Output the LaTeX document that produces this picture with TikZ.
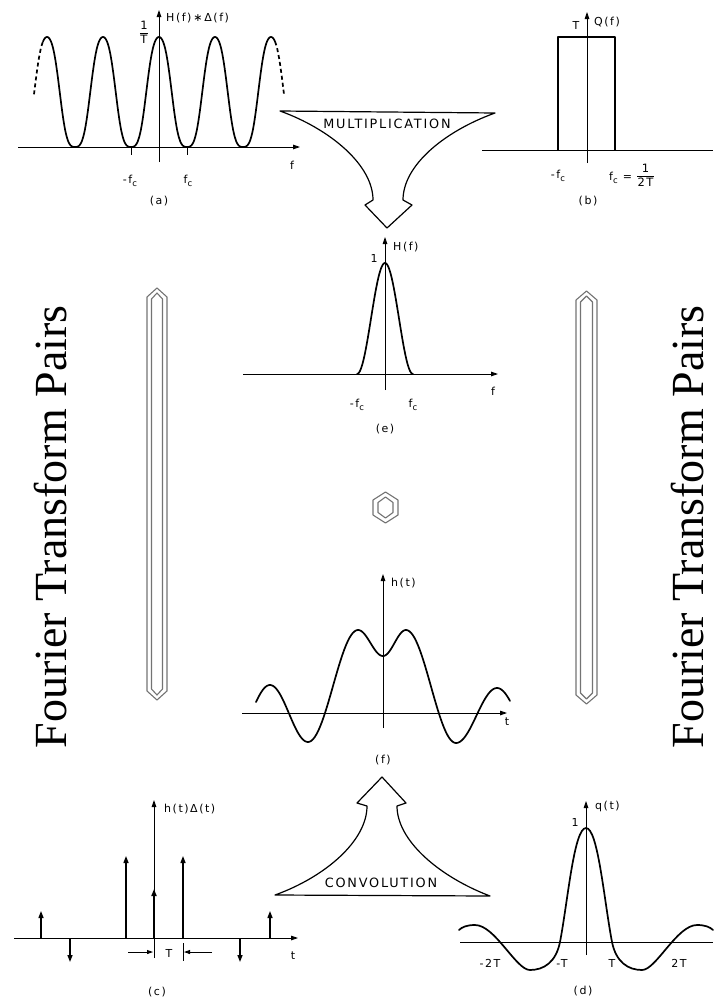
\documentclass[tikz,border=0pt]{standalone}
\usepackage{fontspec}
\setmainfont{DejaVu Sans}
\newfontfamily\labfont[LetterSpace=14]{DejaVu Sans}
\newfontfamily\trfont{Liberation Serif}
\usetikzlibrary{arrows.meta}
\newcommand{\fcsub}{f\raisebox{-0.5ex}{\fontsize{8.5}{8.5}\selectfont c}}
\newcommand{\hfr}[2]{\begingroup\fontsize{11.5}{12}\selectfont\setlength{\tabcolsep}{0.5pt}\renewcommand{\arraystretch}{0.95}\begin{tabular}{c}#1\\[-0.5pt]\hline\rule{0pt}{10pt}#2\end{tabular}\endgroup}
\begin{document}
\begin{tikzpicture}[x=1pt,y=-1pt,
  axtip/.style={-{Triangle[length=7pt,width=4.6pt]}},
  axline/.style={line width=0.9pt},
  axarr/.style={axline,axtip},
  crv/.style={line width=1.7pt,line join=round,line cap=round},
  impulse/.style={line width=1.3pt,-{Triangle[length=7pt,width=5pt]}},
  dimarr/.style={line width=0.8pt,-{Triangle[length=6pt,width=4pt]}},
  lbl/.style={font=\labfont\fontsize{11}{12}\selectfont,inner sep=0pt},
  optxt/.style={font=\labfont\fontsize{12.8}{15}\selectfont,inner sep=0pt},
  sidetxt/.style={font=\trfont\fontsize{46}{50}\selectfont,inner sep=0pt,rotate=90},
  opshape/.style={draw=black,line width=1.2pt,fill=white,line join=round},
  pairbar/.style={draw=black!55,line width=1.1pt,line join=round},
  declare function={wav(\t)=147-110*pow(max(0.0005,0.5+0.5*(cos((\t-159)/56*360)-0.05*cos((\t-159)/56*1080))/0.95),1.3);},
]
\useasboundingbox (0,0) rectangle (713,1001);

% side texts
\node[sidetxt] (ftl) at (51,527) {Fourier Transform Pairs};
\node[sidetxt] (ftr) at (688,527) {Fourier Transform Pairs};

% double-outlined bars
\draw[pairbar] (157,288) -- (167,297) -- (167,691) -- (157,700) -- (147,691) -- (147,297) -- cycle;
\draw[pairbar] (157,293) -- (162.5,299) -- (162.5,689) -- (157,695) -- (151.5,689) -- (151.5,299) -- cycle;
\draw[pairbar] (586.5,291) -- (597,300) -- (597,695) -- (586.5,704) -- (576,695) -- (576,300) -- cycle;
\draw[pairbar] (586.5,296) -- (592.5,302) -- (592.5,693) -- (586.5,699) -- (580.5,693) -- (580.5,302) -- cycle;
\draw[pairbar] (385.5,492) -- (398,500) -- (398,515) -- (385.5,523) -- (373,515) -- (373,500) -- cycle;
\draw[pairbar] (385.5,497) -- (393,502.5) -- (393,512.5) -- (385.5,518) -- (378,512.5) -- (378,502.5) -- cycle;

% ---------- panel (a)
\draw[axarr] (18,147) -- (300,147);
\draw[axarr] (159,162) -- (159,10);
\draw[axline] (131,147) -- (131,155);
\draw[axline] (187,147) -- (187,155);
\draw[crv] plot[domain=43:275,samples=300] (\x,{wav(\x)});
\draw[crv,line cap=butt,dash pattern=on 4pt off 3pt] plot[domain=34:43,samples=12] (\x,{wav(\x)});
\draw[crv,line cap=butt,dash pattern=on 4pt off 3pt] plot[domain=275:284,samples=12] (\x,{wav(\x)});
\node[lbl,anchor=west] (la1) at (166,18) {H(f)\,∗\,Δ(f)};
\node[lbl] (la2) at (144,34) {\hfr{1}{T}};
\node[lbl] (la3) at (130,181) {-\fcsub};
\node[lbl] (la4) at (188,181) {\fcsub};
\node[lbl] (la5) at (292,165) {f};
\node[lbl] (la6) at (159,201) {(a)};

% ---------- panel (b)
\draw[axline] (482,150) -- (713,150);
\draw[axarr] (587,163) -- (587,12);
\draw[crv,line cap=butt] (558,150) -- (558,37) -- (615,37) -- (615,150);
\node[lbl] (lb1) at (576,25) {T};
\node[lbl,anchor=west] (lb2) at (594,22) {Q(f)};
\node[lbl] (lb3) at (558,176) {-\fcsub};
\node[lbl,anchor=west] (lb4) at (609,177) {\fcsub\ =\ \hfr{1}{2T}};
\node[lbl] (lb5) at (588,201) {(b)};

% ---------- multiplication arrow
\draw[opshape] (280,111) -- (495,113)
  .. controls (445,131) and (403,165) .. (403,200)
  -- (412,205) -- (387,228) -- (365,205) -- (373,200)
  .. controls (373,165) and (330,129) .. (280,111) -- cycle;
\node[optxt] (mult) at (387,124) {MULTIPLICATION};

% ---------- panel (e)
\draw[axarr] (243,374) -- (498,374);
\draw[axarr] (385,390) -- (385,237);
\draw[crv] plot[domain=357:413,samples=80] (\x,{374-111*(1+cos((\x-385)/28*180))/2});
\node[lbl,anchor=west] (le1) at (393,247) {H(f)};
\node[lbl] (le2) at (374,258) {1};
\node[lbl] (le3) at (357,405) {-\fcsub};
\node[lbl] (le4) at (413,405) {\fcsub};
\node[lbl] (le5) at (493,391) {f};
\node[lbl] (le6) at (385,429) {(e)};

% ---------- panel (f)
\draw[axarr] (242,713) -- (507,713);
\draw[axarr] (383,728) -- (383,574);
\foreach \xa/\ya/\xb/\yb/\da/\db in {232/742/270/685/256/270, 270/685/308/742/270/308, 308/742/358/630/308/358, 358/630/383/656/358/383, 383/656/406/630/383/406, 406/630/456/743/406/456, 456/743/497/688/456/497, 497/688/537/742/497/510}
  \draw[crv] plot[domain=\da:\db,samples=30] (\x,{\ya+(\yb-\ya)*(1-cos((\x-\xa)/(\xb-\xa)*180))/2});
\node[lbl,anchor=west] (lf1) at (391,583) {h(t)};
\node[lbl] (lf2) at (507,722) {t};
\node[lbl] (lf3) at (383,760) {(f)};

% ---------- convolution arrow
\draw[opshape] (275,895) -- (490,896)
  .. controls (440,877) and (397,841) .. (397,806)
  -- (406,803) -- (382,777) -- (357,803) -- (367,806)
  .. controls (367,841) and (325,877) .. (275,895) -- cycle;
\node[optxt] (conv) at (381,883) {CONVOLUTION};

% ---------- panel (c)
\draw[axarr] (14,938) -- (298,938);
\draw[axarr] (154,958) -- (154,800);
\draw[impulse] (41,938) -- (41,911);
\draw[impulse] (70,938) -- (70,962);
\draw[impulse] (126,938) -- (126,856);
\draw[impulse,line width=1.8pt] (154,938) -- (154,889);
\draw[impulse] (183,938) -- (183,856);
\draw[impulse] (240,938) -- (240,962);
\draw[impulse] (270,938) -- (270,911);
\draw[axline] (183,943) -- (183,961);
\draw[dimarr] (128,952) -- (153,952);
\draw[dimarr] (212,952) -- (184,952);
\node[lbl,anchor=west] (lc1) at (164,809) {h(t)Δ(t)};
\node[lbl] (lc2) at (169,953) {T};
\node[lbl] (lc3) at (293,956) {t};
\node[lbl] (lc4) at (157,992) {(c)};

% ---------- panel (d)
\draw[axline] (460,942) -- (713,942);
\draw[axarr] (586,955) -- (586,801);
\draw[crv] (459,930) .. controls (462,927) and (467,925) .. (475,925)
  .. controls (495,925) and (516,970) .. (530,970)
  .. controls (544,970) and (556,962) .. (560,942)
  .. controls (568,900) and (574,828) .. (586,828)
  .. controls (598,828) and (604,900) .. (612,942)
  .. controls (616,962) and (628,970) .. (642,970)
  .. controls (656,970) and (677,925) .. (697,925)
  .. controls (705,925) and (710,927) .. (713,930);
\node[lbl,anchor=west] (ld1) at (595,806) {q(t)};
\node[lbl] (ld2) at (575,822) {1};
\node[lbl] (ld3) at (490,963) {-2T};
\node[lbl] (ld4) at (562,963) {-T};
\node[lbl] (ld5) at (612,963) {T};
\node[lbl] (ld6) at (679,963) {2T};
\node[lbl] (ld7) at (583,991) {(d)};
\end{tikzpicture}
\end{document}
